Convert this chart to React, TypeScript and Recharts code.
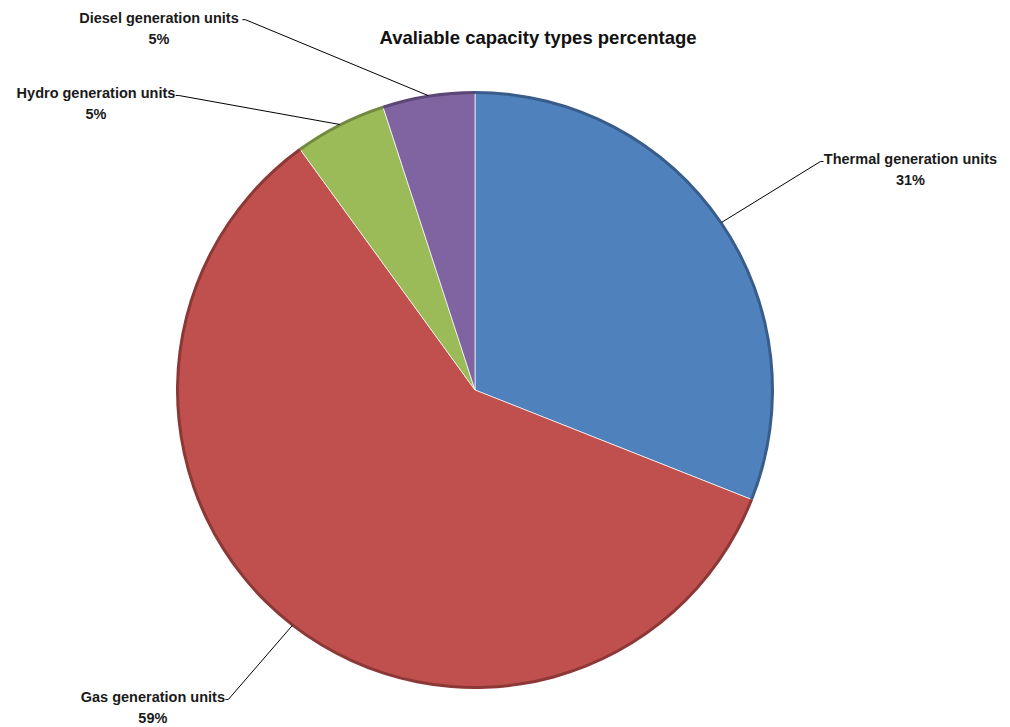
import { PieChart, Pie, Cell } from "recharts";

const categories = [
  "Thermal generation units",
  "Gas generation units",
  "Hydro generation units",
  "Diesel generation units",
];
const shares = [31, 59, 5, 5];

const fills = ["#4F81BD", "#C0504D", "#9BBB59", "#8064A2"];
const edges = ["#385D8A", "#8C3836", "#71893F", "#5C4776"];

// where each callout ends, relative to the slice edge, and which side the text sits
const callouts = [
  { dx: 99, dy: -61, side: "right" },
  { dx: -64, dy: 74, side: "left" },
  { dx: -161, dy: -29, side: "left" },
  { dx: -183, dy: -76, side: "left" },
];

const data = categories.map((name, i) => ({ name, value: shares[i] }));

const RAD = Math.PI / 180;
const FONT = "'Liberation Sans', Arial, sans-serif";

function renderLabel(props: any) {
  const { cx, cy, midAngle, outerRadius, index, name, value } = props;
  const c = callouts[index];
  const sx = cx + outerRadius * Math.cos(-midAngle * RAD);
  const sy = cy + outerRadius * Math.sin(-midAngle * RAD);
  const ex = sx + c.dx;
  const ey = sy + c.dy;
  const tick = c.side === "right" ? 3 : -3;
  const textWidth = name.length * 7.25;
  const centerX = c.side === "right" ? ex + tick + textWidth / 2 : ex + tick - textWidth / 2;
  return (
    <g>
      <polyline
        points={`${sx},${sy} ${ex},${ey} ${ex + tick},${ey}`}
        fill="none"
        stroke="#000"
        strokeWidth={1}
      />
      <text
        x={centerX}
        y={ey + 3}
        textAnchor="middle"
        fontFamily={FONT}
        fontWeight="bold"
        fontSize={14.5}
        fill="#1a1a1a"
      >
        {name}
      </text>
      <text
        x={centerX}
        y={ey + 24}
        textAnchor="middle"
        fontFamily={FONT}
        fontWeight="bold"
        fontSize={14.5}
        fill="#1a1a1a"
      >
        {value}%
      </text>
    </g>
  );
}

export default function App() {
  return (
    <div style={{ position: "absolute", left: 0, top: 0, width: 1010, height: 727, background: "#fff" }}>
      <div
        style={{
          position: "absolute",
          left: 0,
          width: 1076,
          top: 27,
          textAlign: "center",
          fontFamily: FONT,
          fontWeight: "bold",
          fontSize: 18.5,
          color: "#111",
          zIndex: 1,
        }}
      >
        Avaliable capacity types percentage
      </div>
      <PieChart width={1010} height={727} margin={{ top: 0, right: 0, bottom: 0, left: 0 }}>
        <Pie
          data={data}
          dataKey="value"
          nameKey="name"
          cx={475}
          cy={390}
          outerRadius={298}
          startAngle={90}
          endAngle={-270}
          stroke="rgba(255,255,255,0.7)"
          strokeWidth={1}
          label={renderLabel}
          labelLine={false}
          isAnimationActive={false}
        >
          {data.map((d, i) => (
            <Cell key={d.name} fill={fills[i]} />
          ))}
        </Pie>
        {/* darker rim along the outside of each slice */}
        <Pie
          data={data}
          dataKey="value"
          cx={475}
          cy={390}
          innerRadius={296}
          outerRadius={299}
          startAngle={90}
          endAngle={-270}
          stroke="none"
          isAnimationActive={false}
        >
          {data.map((d, i) => (
            <Cell key={d.name} fill={edges[i]} />
          ))}
        </Pie>
      </PieChart>
    </div>
  );
}
